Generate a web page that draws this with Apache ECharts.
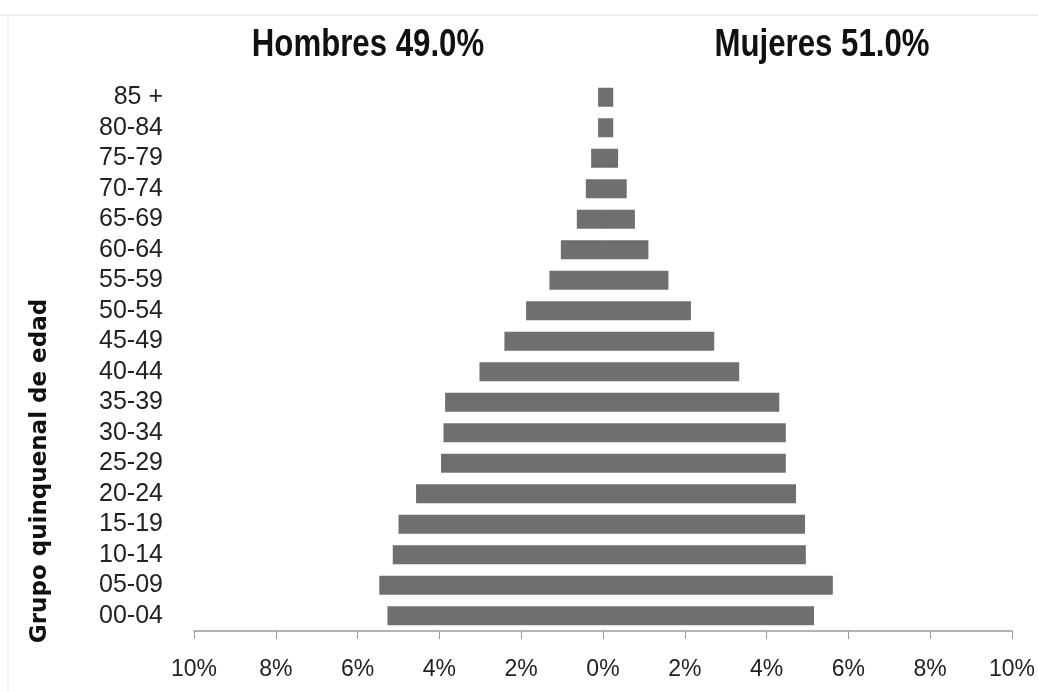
<!DOCTYPE html>
<html>
<head>
<meta charset="utf-8">
<script src="https://cdn.jsdelivr.net/npm/echarts@6/dist/echarts.min.js"></script>
<style>
html,body{margin:0;padding:0;background:#fff;}
#chart{width:1038px;height:692px;}
</style>
</head>
<body>
<div id="chart"></div>
<script>
const categories = ['00-04','05-09','10-14','15-19','20-24','25-29','30-34','35-39','40-44','45-49','50-54','55-59','60-64','65-69','70-74','75-79','80-84','85 +'];
const hombres = [5.27,5.47,5.14,5.00,4.57,3.96,3.90,3.86,3.02,2.41,1.88,1.31,1.03,0.64,0.42,0.29,0.12,0.12];
const mujeres = [5.16,5.62,4.96,4.94,4.72,4.47,4.47,4.31,3.33,2.72,2.15,1.60,1.11,0.78,0.58,0.37,0.25,0.25];
const titleHombres = 'Hombres 49.0%';
const titleMujeres = 'Mujeres 51.0%';
const yAxisTitle = 'Grupo quinquenal de edad';

const chart = echarts.init(document.getElementById('chart'), null, {renderer:'canvas'});
const barColor = '#6f6f6f';
chart.setOption({
  animation: false,
  backgroundColor: '#ffffff',
  grid: {left: 194, right: 25, top: 82, bottom: 61, containLabel: false},
  xAxis: {
    type: 'value', min: -10, max: 10, interval: 2,
    axisLine: {show: true, lineStyle: {color: '#9a9a9a', width: 1.5}},
    axisTick: {show: true, length: 8, lineStyle: {color: '#9a9a9a'}},
    splitLine: {show: false},
    axisLabel: {
      formatter: v => Math.abs(v) + '%',
      fontFamily: 'Liberation Sans, Arial, sans-serif', fontSize: 23, color: '#222', margin: 27
    }
  },
  yAxis: {
    type: 'category', data: categories,
    axisLine: {show: false}, axisTick: {show: false},
    axisLabel: {interval: 0, fontFamily: 'Liberation Sans, Arial, sans-serif', fontSize: 25, color: '#222', margin: 31}
  },
  series: [
    {name: 'Hombres', type: 'bar', stack: 'p', barWidth: 19, itemStyle: {color: barColor},
     data: hombres.map(v => -v)},
    {name: 'Mujeres', type: 'bar', stack: 'p', barWidth: 19, itemStyle: {color: barColor},
     data: mujeres}
  ],
  graphic: [
    {type: 'line', shape: {x1: 0, y1: 15, x2: 1038, y2: 15}, style: {stroke: '#dcdcdc', lineWidth: 1}},
    {type: 'line', shape: {x1: 8, y1: 15, x2: 8, y2: 692}, style: {stroke: '#e4e4e4', lineWidth: 1}},
    {type: 'text', x: 368, y: 45, scaleX: 0.8, style: {text: titleHombres, font: 'bold 39px "Liberation Sans", Arial, sans-serif', fill: '#111', align: 'center', verticalAlign: 'middle'}},
    {type: 'text', x: 822, y: 45, scaleX: 0.8, style: {text: titleMujeres, font: 'bold 39px "Liberation Sans", Arial, sans-serif', fill: '#111', align: 'center', verticalAlign: 'middle'}},
    {type: 'text', x: 40, y: 471, rotation: Math.PI / 2, style: {text: yAxisTitle, font: 'bold 23px "DejaVu Sans", sans-serif', fill: '#111', align: 'center', verticalAlign: 'middle'}}
  ]
});
</script>
</body>
</html>
